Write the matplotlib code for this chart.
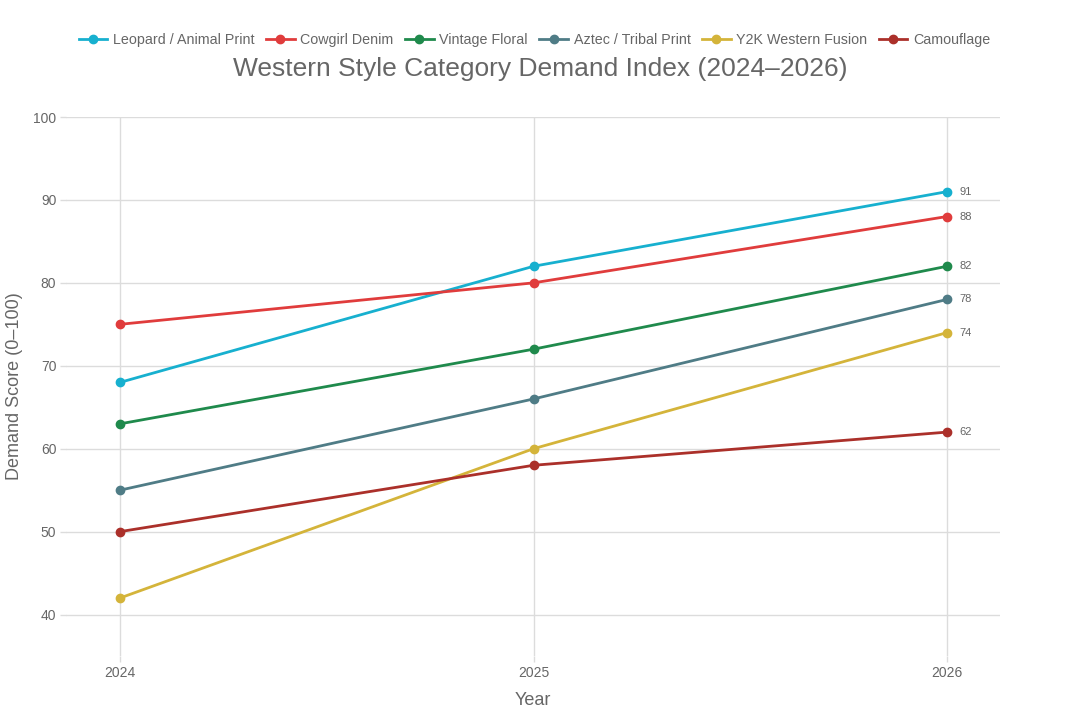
import matplotlib
matplotlib.use('Agg')
from matplotlib import pyplot as plt

plt.rcParams['font.family'] = ['Liberation Sans', 'DejaVu Sans']

years = [2024, 2025, 2026]
categories = ['Leopard / Animal Print', 'Cowgirl Denim', 'Vintage Floral',
              'Aztec / Tribal Print', 'Y2K Western Fusion', 'Camouflage']
leopard = [68, 82, 91]
denim = [75, 80, 88]
floral = [63, 72, 82]
aztec = [55, 66, 78]
y2k = [42, 60, 74]
camo = [50, 58, 62]
series = [leopard, denim, floral, aztec, y2k, camo]
colors = ['#17b0cf', '#e03c3c', '#1f8a4c', '#4f7c86', '#d4b43a', '#ab302a']

grey = '#666666'

fig = plt.figure(figsize=(10.8, 7.2), dpi=100)
ax = fig.add_axes([0.0611, 0.0889, 0.8648, 0.7486])

for name, vals, c in zip(categories, series, colors):
    ax.plot(years, vals, color=c, lw=2, marker='o', ms=6, label=name, zorder=3)
    ax.annotate(str(vals[-1]), (years[-1], vals[-1]), xytext=(9, 0),
                textcoords='offset points', va='center', ha='left',
                fontsize=8, color=grey)

ax.set_xlim(2023.869, 2026.128)
ax.set_ylim(35, 100)
ax.set_xticks(years)
ax.set_yticks(range(40, 101, 10))
ax.grid(True, color='#dcdcdc', lw=1)
ax.set_axisbelow(True)
for s in ax.spines.values():
    s.set_visible(False)
ax.tick_params(length=4, width=1, color='#dcdcdc', labelsize=10,
               labelcolor=grey, pad=3)
ax.tick_params(axis='x', pad=3)

ax.set_xlabel('Year', fontsize=13, color=grey, labelpad=9)
ax.set_ylabel('Demand Score (0–100)', fontsize=13, color=grey, labelpad=7)

fig.suptitle('Western Style Category Demand Index (2024–2026)', fontsize=19,
             color=grey, y=0.921)
fig.legend(loc='center', bbox_to_anchor=(0.495, 0.945), ncol=6, frameon=False,
           fontsize=10.3, handlelength=2, columnspacing=0.8, handletextpad=0.4,
           labelcolor=grey)

fig.savefig('out.png', dpi=100)
